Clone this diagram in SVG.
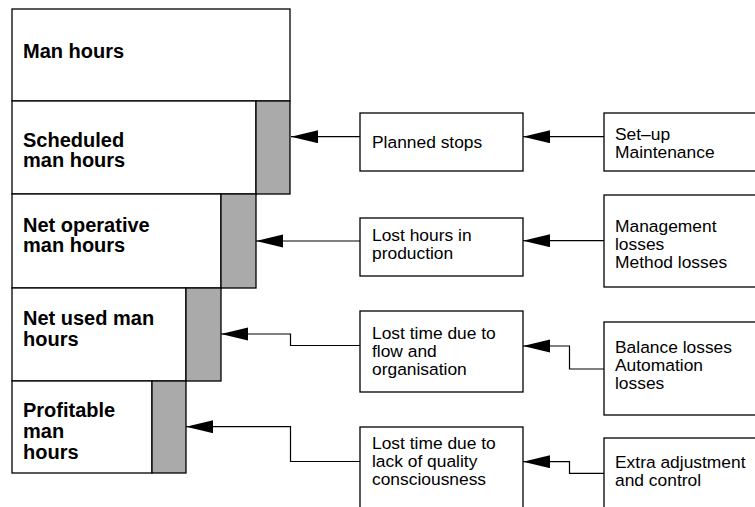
<svg xmlns="http://www.w3.org/2000/svg" width="755" height="507" viewBox="0 0 755 507">
  <style>
    .box { fill: #ffffff; stroke: #000000; stroke-width: 1.3; }
    .bar { fill: #aaaaaa; stroke: #000000; stroke-width: 1.3; }
    .link { fill: none; stroke: #000000; stroke-width: 1.2; marker-end: url(#head); }
    .big { font-family: "Liberation Sans", Arial, sans-serif; font-weight: bold; font-size: 20px; fill: #000000; }
    .small { font-family: "Liberation Sans", Arial, sans-serif; font-size: 17.4px; fill: #000000; }
  </style>
  <defs>
    <marker id="head" markerUnits="userSpaceOnUse" markerWidth="28" markerHeight="14" refX="27" refY="6.5" orient="auto">
      <path d="M0,0 L27,6.5 L0,13 Z" fill="#000000"/>
    </marker>
  </defs>
  <rect width="755" height="507" fill="#ffffff"/>

  <!-- stacked hour levels -->
  <g id="man-hours">
    <rect class="box" x="12" y="9" width="278" height="92"/>
    <text class="big" x="23" y="58">Man hours</text>
  </g>
  <g id="scheduled">
    <rect class="box" x="12" y="101" width="244" height="93"/>
    <rect class="bar" x="256" y="101" width="34" height="93"/>
    <text class="big" x="23" y="146.7">Scheduled</text>
    <text class="big" x="23" y="166.7">man hours</text>
  </g>
  <g id="net-operative">
    <rect class="box" x="12" y="194" width="209" height="94"/>
    <rect class="bar" x="221" y="194" width="35" height="94"/>
    <text class="big" x="23" y="231.7">Net operative</text>
    <text class="big" x="23" y="252.3">man hours</text>
  </g>
  <g id="net-used">
    <rect class="box" x="12" y="288" width="174" height="93"/>
    <rect class="bar" x="186" y="288" width="35" height="93"/>
    <text class="big" x="23" y="325">Net used man</text>
    <text class="big" x="23" y="345.7">hours</text>
  </g>
  <g id="profitable">
    <rect class="box" x="12" y="381" width="140" height="92"/>
    <rect class="bar" x="152" y="381" width="34" height="92"/>
    <text class="big" x="23" y="416.7">Profitable</text>
    <text class="big" x="23" y="438">man</text>
    <text class="big" x="23" y="459.3">hours</text>
  </g>

  <!-- loss categories -->
  <g id="planned-stops">
    <rect class="box" x="360" y="113" width="163" height="58"/>
    <text class="small" x="372" y="148.3">Planned stops</text>
  </g>
  <g id="lost-hours">
    <rect class="box" x="360" y="218" width="163" height="58"/>
    <text class="small" x="372" y="241">Lost hours in</text>
    <text class="small" x="372" y="258.6">production</text>
  </g>
  <g id="lost-flow">
    <rect class="box" x="360" y="311" width="163" height="81"/>
    <text class="small" x="372" y="339.3">Lost time due to</text>
    <text class="small" x="372" y="356.9">flow and</text>
    <text class="small" x="372" y="374.5">organisation</text>
  </g>
  <g id="lost-quality">
    <rect class="box" x="360" y="427" width="163" height="100"/>
    <text class="small" x="372" y="449.3">Lost time due to</text>
    <text class="small" x="372" y="467.2">lack of quality</text>
    <text class="small" x="372" y="485">consciousness</text>
  </g>

  <!-- loss causes -->
  <g id="setup">
    <rect class="box" x="604" y="113" width="170" height="58"/>
    <text class="small" x="615" y="140">Set–up</text>
    <text class="small" x="615" y="158.3">Maintenance</text>
  </g>
  <g id="management">
    <rect class="box" x="604" y="195" width="170" height="92"/>
    <text class="small" x="615" y="231.7">Management</text>
    <text class="small" x="615" y="249.6">losses</text>
    <text class="small" x="615" y="267.5">Method losses</text>
  </g>
  <g id="balance">
    <rect class="box" x="604" y="322" width="170" height="93"/>
    <text class="small" x="615" y="352.7">Balance losses</text>
    <text class="small" x="615" y="370.7">Automation</text>
    <text class="small" x="615" y="388.6">losses</text>
  </g>
  <g id="extra">
    <rect class="box" x="604" y="438" width="170" height="90"/>
    <text class="small" x="615" y="468.3">Extra adjustment</text>
    <text class="small" x="615" y="486">and control</text>
  </g>

  <!-- connectors -->
  <g id="connectors">
    <path class="link" d="M360,136.7 H291"/>
    <path class="link" d="M360,241 H256"/>
    <path class="link" d="M360,345.5 H290.5 V334 H221"/>
    <path class="link" d="M360,461.5 H290.5 V426.7 H186"/>
    <path class="link" d="M604,136.7 H523"/>
    <path class="link" d="M604,240.7 H523"/>
    <path class="link" d="M604,369 H569.5 V346 H523"/>
    <path class="link" d="M604,473.3 H569.5 V461.7 H523"/>
  </g>
</svg>
